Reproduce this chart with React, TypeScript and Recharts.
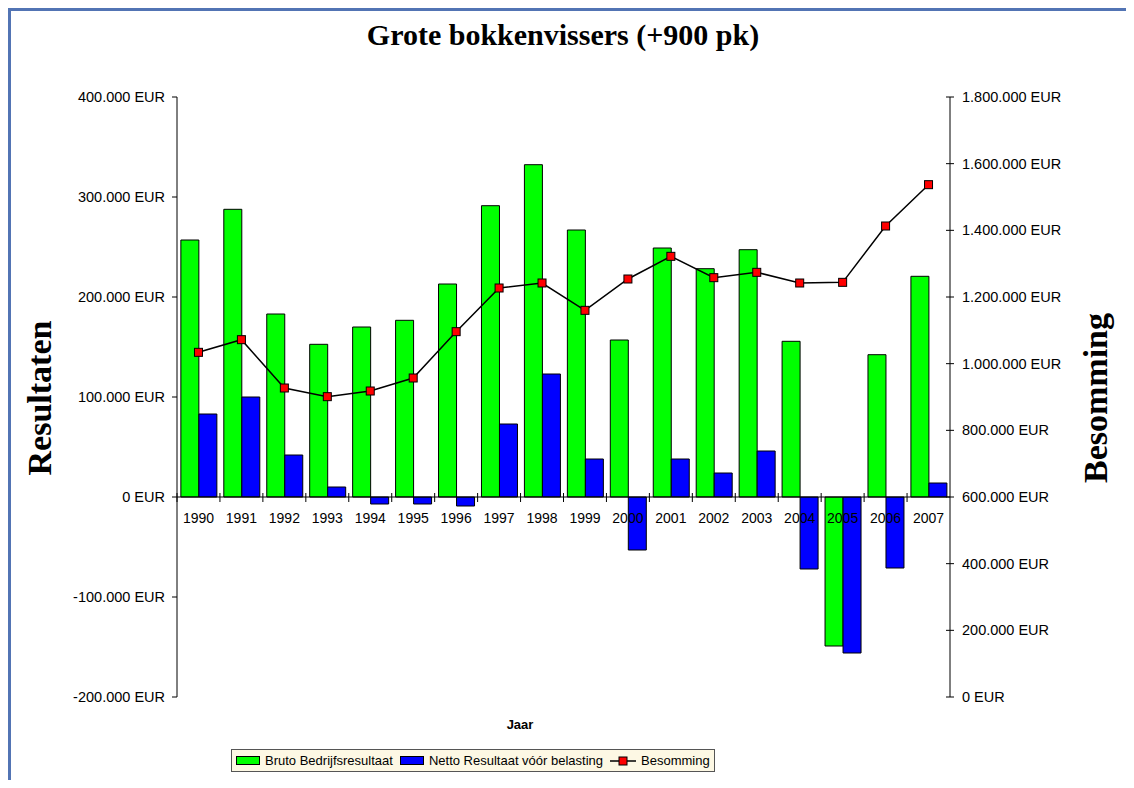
import {
  ComposedChart,
  Bar,
  Line,
  XAxis,
  YAxis,
  ReferenceLine,
  Legend,
} from "recharts";

const years = ["1990", "1991", "1992", "1993", "1994", "1995", "1996", "1997", "1998", "1999", "2000", "2001", "2002", "2003", "2004", "2005", "2006", "2007"];
const bruto = [257000, 287700, 183000, 152700, 170000, 176700, 213000, 291300, 332300, 267000, 157000, 249000, 228300, 247300, 155700, -149000, 142300, 220700];
const netto = [83000, 100000, 42000, 10000, -7000, -7000, -9000, 73000, 123000, 38000, -53000, 38000, 24000, 46000, -72000, -156000, -71000, 14000];
const besomming = [1034000, 1072000, 927000, 901000, 918000, 957000, 1096000, 1227000, 1242000, 1160000, 1254000, 1322000, 1258000, 1274000, 1242000, 1244000, 1413000, 1537000];

const leftTicks = [-200000, -100000, 0, 100000, 200000, 300000, 400000];
const rightTicks = [0, 200000, 400000, 600000, 800000, 1000000, 1200000, 1400000, 1600000, 1800000];

const data = years.map((year, i) => ({
  year,
  bruto: bruto[i],
  netto: netto[i],
  besomming: besomming[i],
  axis: 0,
}));

// layout
const W = 1118;
const H = 772;
const LEFT_W = 169;
const RIGHT_W = 176;
const TOP = 89;
const BOTTOM = 83;
const X_AXIS_H = 30;
const PLOT_W = W - LEFT_W - RIGHT_W;
const PLOT_RIGHT = W - RIGHT_W;

const FONT = '"Liberation Sans", Arial, sans-serif';
const SERIF = '"Liberation Serif", "Times New Roman", serif';

const eur = (v: number) =>
  (v < 0 ? "-" : "") +
  Math.abs(v).toString().replace(/\B(?=(\d{3})+(?!\d))/g, ".") +
  " EUR";

// year labels + category ticks on the zero line, drawn above the bars
const YearLabel = (props: any) => {
  const { x, y, index } = props;
  const band = PLOT_W / years.length;
  return (
    <g>
      <line x1={x - band / 2} x2={x - band / 2} y1={y - 4} y2={y + 5} stroke="#000" />
      <text x={x} y={y + 26} textAnchor="middle" fontSize={14} fontFamily={FONT} fill="#000">
        {years[index]}
      </text>
    </g>
  );
};

const RightTick = (props: any) => {
  const { y, payload } = props;
  return (
    <g>
      <line x1={PLOT_RIGHT - 4} x2={PLOT_RIGHT + 4} y1={y} y2={y} stroke="#000" />
      <text x={PLOT_RIGHT + 12} y={y} dy="0.355em" textAnchor="start" fontSize={14.5} fontFamily={FONT} fill="#000">
        {eur(payload.value)}
      </text>
    </g>
  );
};

const SquareDot = (props: any) => {
  const { cx, cy, index } = props;
  return <rect key={`dot-${index}`} x={cx - 4} y={cy - 4} width={8} height={8} fill="#ff0000" stroke="#000" strokeWidth={1} />;
};

const LegendBox = () => (
  <div
    style={{
      display: "flex",
      alignItems: "center",
      gap: 5,
      height: 21,
      padding: "0 4px",
      border: "1px solid #555",
      background: "#fdf8e4",
      fontFamily: FONT,
      fontSize: 13,
      color: "#000",
      whiteSpace: "nowrap",
    }}
  >
    <span style={{ width: 22, height: 7, background: "#00ff00", border: "1px solid #000" }} />
    <span style={{ marginRight: 2 }}>Bruto Bedrijfsresultaat</span>
    <span style={{ width: 22, height: 7, background: "#0000ff", border: "1px solid #000" }} />
    <span style={{ marginRight: 2 }}>Netto Resultaat vóór belasting</span>
    <svg width={26} height={10}>
      <line x1={0} x2={26} y1={5} y2={5} stroke="#000" strokeWidth={1.5} />
      <rect x={9} y={1} width={8} height={8} fill="#ff0000" stroke="#000" />
    </svg>
    <span>Besomming</span>
  </div>
);

export default function App() {
  return (
    <div style={{ position: "relative", width: W, height: H, overflow: "hidden", fontFamily: FONT }}>
      <div
        style={{
          position: "absolute",
          left: 0,
          top: 0,
          width: 1300,
          height: 1000,
          borderTop: "3px solid #5274b4",
          borderLeft: "3px solid #5274b4",
          boxSizing: "border-box",
        }}
      />
      <div
        style={{
          position: "absolute",
          left: 555,
          top: 27,
          transform: "translate(-50%, -50%)",
          fontFamily: SERIF,
          fontWeight: "bold",
          fontSize: 30,
          whiteSpace: "nowrap",
        }}
      >
        Grote bokkenvissers (+900 pk)
      </div>
      <div
        style={{
          position: "absolute",
          left: 32,
          top: 390,
          transform: "translate(-50%, -50%) rotate(-90deg)",
          fontFamily: SERIF,
          fontWeight: "bold",
          fontSize: 34,
          whiteSpace: "nowrap",
        }}
      >
        Resultaten
      </div>
      <div
        style={{
          position: "absolute",
          left: 1088,
          top: 390,
          transform: "translate(-50%, -50%) rotate(-90deg)",
          fontFamily: SERIF,
          fontWeight: "bold",
          fontSize: 34,
          whiteSpace: "nowrap",
        }}
      >
        Besomming
      </div>
      <div
        style={{
          position: "absolute",
          left: 512,
          top: 716,
          transform: "translate(-50%, -50%)",
          fontWeight: "bold",
          fontSize: 13,
        }}
      >
        Jaar
      </div>
      <div style={{ position: "absolute", left: 0, top: 0 }}>
        <ComposedChart
          width={W}
          height={H}
          data={data}
          margin={{ top: TOP, right: 0, bottom: BOTTOM - X_AXIS_H, left: 0 }}
          barCategoryGap="9%"
          barGap={0}
        >
          <XAxis dataKey="year" height={X_AXIS_H} axisLine={false} tickLine={false} tick={false} />
          <YAxis
            yAxisId="left"
            width={LEFT_W}
            domain={[leftTicks[0], leftTicks[leftTicks.length - 1]]}
            ticks={leftTicks}
            tickFormatter={eur}
            tick={{ fill: "#000", fontSize: 14.5, fontFamily: FONT }}
            tickSize={5}
            tickMargin={7}
            axisLine={{ stroke: "#000" }}
            tickLine={{ stroke: "#000" }}
          />
          <YAxis
            yAxisId="right"
            orientation="right"
            width={RIGHT_W}
            domain={[0, 1800000]}
            ticks={rightTicks}
            axisLine={{ stroke: "#000" }}
            tickLine={false}
            tick={<RightTick />}
          />
          <Legend
            layout="horizontal"
            verticalAlign="middle"
            align="center"
            content={<LegendBox />}
            wrapperStyle={{ position: "absolute", left: 223, top: 741, width: "auto", height: "auto" }}
          />
          <Bar yAxisId="left" dataKey="bruto" name="Bruto Bedrijfsresultaat" fill="#00ff00" stroke="#000" strokeWidth={1} isAnimationActive={false} />
          <Bar yAxisId="left" dataKey="netto" name="Netto Resultaat vóór belasting" fill="#0000ff" stroke="#000" strokeWidth={1} isAnimationActive={false} />
          <ReferenceLine yAxisId="left" y={0} stroke="#000" />
          <Line
            yAxisId="left"
            dataKey="axis"
            stroke="none"
            dot={false}
            activeDot={false}
            legendType="none"
            label={<YearLabel />}
            isAnimationActive={false}
          />
          <Line
            yAxisId="right"
            dataKey="besomming"
            name="Besomming"
            stroke="#000"
            strokeWidth={1.5}
            dot={<SquareDot />}
            isAnimationActive={false}
          />
        </ComposedChart>
      </div>
    </div>
  );
}
